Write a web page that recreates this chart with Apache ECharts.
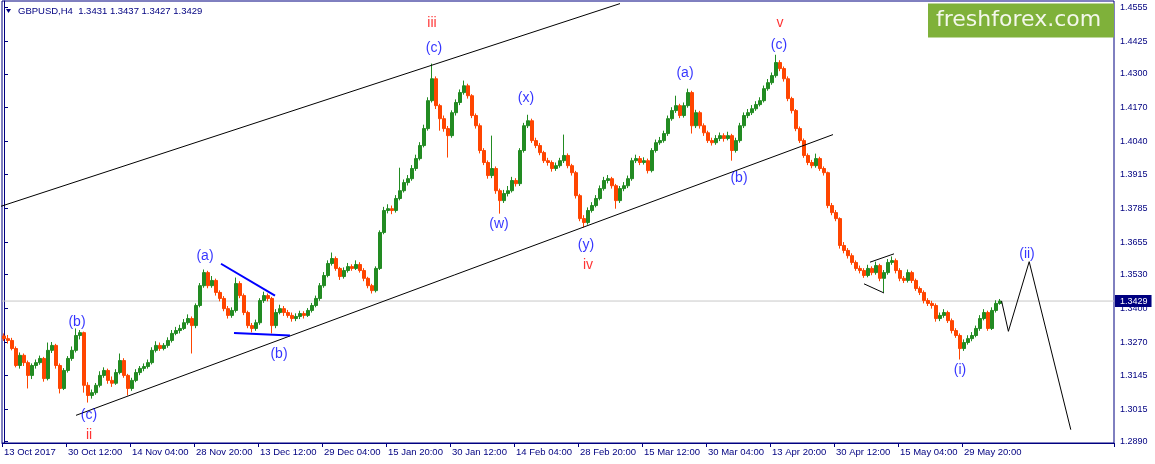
<!DOCTYPE html>
<html>
<head>
<meta charset="utf-8">
<script src="https://cdn.jsdelivr.net/npm/echarts@6/dist/echarts.min.js"></script>
<style>html,body{margin:0;padding:0;background:#fff;}#c{width:1155px;height:464px;}</style>
</head>
<body>
<div id="c"></div>
<script>
// ---- data ----
const symbolName = 'GBPUSD,H4';
const headerOHLC = ['1.3431', '1.3437', '1.3427', '1.3429'];
const currentPrice = 1.3429;
const xTickLabels = ['13 Oct 2017','30 Oct 12:00','14 Nov 04:00','28 Nov 20:00','13 Dec 12:00','29 Dec 04:00','15 Jan 20:00','30 Jan 12:00','14 Feb 04:00','28 Feb 20:00','15 Mar 12:00','30 Mar 04:00','13 Apr 20:00','30 Apr 12:00','15 May 04:00','29 May 20:00'];
const yTickLabels = ['1.2890','1.3015','1.3145','1.3270','1.3400','1.3530','1.3655','1.3785','1.3915','1.4040','1.4170','1.4300','1.4425','1.4555'];

const opens = [
1.3295,1.3285,1.3278,1.3247,1.3182,1.3221,1.3193,1.3144,1.3182,1.3193,
1.3209,1.3132,1.3240,1.3259,1.3182,1.3094,1.3163,1.3209,1.3240,1.3297,
1.3308,1.3106,1.3067,1.3078,1.3106,1.3144,1.3163,1.3125,1.3114,1.3155,
1.3201,1.3144,1.3094,1.3125,1.3155,1.3171,1.3178,1.3193,1.3240,1.3259,
1.3247,1.3259,1.3278,1.3305,1.3316,1.3324,1.3346,1.3362,1.3335,1.3412,
1.3488,1.3538,1.3488,1.3508,1.3462,1.3439,1.3400,1.3374,1.3393,1.3496,
1.3450,1.3385,1.3335,1.3324,1.3346,1.3431,1.3450,1.3439,1.3335,1.3385,
1.3400,1.3385,1.3374,1.3362,1.3370,1.3381,1.3374,1.3393,1.3412,1.3439,
1.3488,1.3527,1.3573,1.3592,1.3554,1.3523,1.3546,1.3561,1.3554,1.3569,
1.3546,1.3516,1.3488,1.3469,1.3554,1.3692,1.3776,1.3783,1.3776,1.3822,
1.3852,1.3883,1.3898,1.3937,1.3975,1.4025,1.4090,1.4197,1.4281,1.4178,
1.4128,1.4090,1.4063,1.4151,1.4190,1.4228,1.4254,1.4216,1.4140,1.4101,
1.4006,1.3960,1.3910,1.3937,1.3852,1.3814,1.3841,1.3852,1.3891,1.3879,
1.4006,1.4101,1.4120,1.4044,1.4025,1.3998,1.3967,1.3960,1.3937,1.3948,
1.3967,1.3987,1.3948,1.3921,1.3833,1.3745,1.3730,1.3776,1.3795,1.3822,
1.3860,1.3891,1.3898,1.3871,1.3814,1.3860,1.3871,1.3898,1.3967,1.3975,
1.3960,1.3967,1.3929,1.4006,1.4036,1.4044,1.4071,1.4128,1.4159,1.4178,
1.4140,1.4178,1.4228,1.4101,1.4151,1.4101,1.4074,1.4044,1.4036,1.4052,
1.4063,1.4052,1.4063,1.4006,1.4044,1.4101,1.4140,1.4151,1.4166,1.4182,
1.4197,1.4243,1.4266,1.4293,1.4343,1.4320,1.4281,1.4205,1.4159,1.4090,
1.4044,1.3987,1.3960,1.3948,1.3975,1.3937,1.3921,1.3795,1.3768,1.3745,
1.3642,1.3623,1.3603,1.3577,1.3554,1.3546,1.3527,1.3554,1.3538,1.3565,
1.3516,1.3538,1.3577,1.3584,1.3546,1.3516,1.3508,1.3538,1.3508,1.3477,
1.3462,1.3431,1.3420,1.3412,1.3362,1.3374,1.3385,1.3354,1.3316,1.3297,
1.3247,1.3270,1.3285,1.3297,1.3324,1.3362,1.3385,1.3324,1.3393,1.3420];

const closes = [
1.3285,1.3278,1.3247,1.3182,1.3221,1.3193,1.3144,1.3182,1.3193,1.3209,
1.3132,1.3240,1.3259,1.3182,1.3094,1.3163,1.3209,1.3240,1.3297,1.3308,
1.3106,1.3067,1.3078,1.3106,1.3144,1.3163,1.3125,1.3114,1.3155,1.3201,
1.3144,1.3094,1.3125,1.3155,1.3171,1.3178,1.3193,1.3240,1.3259,1.3247,
1.3259,1.3278,1.3305,1.3316,1.3324,1.3346,1.3362,1.3335,1.3412,1.3488,
1.3538,1.3488,1.3508,1.3462,1.3439,1.3400,1.3374,1.3393,1.3496,1.3450,
1.3385,1.3335,1.3324,1.3346,1.3431,1.3450,1.3439,1.3335,1.3385,1.3400,
1.3385,1.3374,1.3362,1.3370,1.3381,1.3374,1.3393,1.3412,1.3439,1.3488,
1.3527,1.3573,1.3592,1.3554,1.3523,1.3546,1.3561,1.3554,1.3569,1.3546,
1.3516,1.3488,1.3469,1.3554,1.3692,1.3776,1.3783,1.3776,1.3822,1.3852,
1.3883,1.3898,1.3937,1.3975,1.4025,1.4090,1.4197,1.4281,1.4178,1.4128,
1.4090,1.4063,1.4151,1.4190,1.4228,1.4254,1.4216,1.4140,1.4101,1.4006,
1.3960,1.3910,1.3937,1.3852,1.3814,1.3841,1.3852,1.3891,1.3879,1.4006,
1.4101,1.4120,1.4044,1.4025,1.3998,1.3967,1.3960,1.3937,1.3948,1.3967,
1.3987,1.3948,1.3921,1.3833,1.3745,1.3730,1.3776,1.3795,1.3822,1.3860,
1.3891,1.3898,1.3871,1.3814,1.3860,1.3871,1.3898,1.3967,1.3975,1.3960,
1.3967,1.3929,1.4006,1.4036,1.4044,1.4071,1.4128,1.4159,1.4178,1.4140,
1.4178,1.4228,1.4101,1.4151,1.4101,1.4074,1.4044,1.4036,1.4052,1.4063,
1.4052,1.4063,1.4006,1.4044,1.4101,1.4140,1.4151,1.4166,1.4182,1.4197,
1.4243,1.4266,1.4293,1.4343,1.4320,1.4281,1.4205,1.4159,1.4090,1.4044,
1.3987,1.3960,1.3948,1.3975,1.3937,1.3921,1.3795,1.3768,1.3745,1.3642,
1.3623,1.3603,1.3577,1.3554,1.3546,1.3527,1.3554,1.3538,1.3565,1.3516,
1.3538,1.3577,1.3584,1.3546,1.3516,1.3508,1.3538,1.3508,1.3477,1.3462,
1.3431,1.3420,1.3412,1.3362,1.3374,1.3385,1.3354,1.3316,1.3297,1.3247,
1.3270,1.3285,1.3297,1.3324,1.3362,1.3385,1.3324,1.3393,1.3420,1.3429];

const highs = [
1.3305,1.3299,1.3288,1.3255,1.3232,1.3228,1.3201,1.3190,1.3205,1.3220,
1.3215,1.3270,1.3272,1.3265,1.3190,1.3172,1.3218,1.3255,1.3324,1.3318,
1.3312,1.3118,1.3090,1.3115,1.3160,1.3175,1.3170,1.3140,1.3168,1.3228,
1.3210,1.3150,1.3135,1.3168,1.3180,1.3190,1.3205,1.3252,1.3275,1.3270,
1.3268,1.3290,1.3318,1.3330,1.3338,1.3360,1.3378,1.3370,1.3420,1.3498,
1.3550,1.3545,1.3525,1.3515,1.3470,1.3448,1.3410,1.3405,1.3519,1.3505,
1.3458,1.3392,1.3345,1.3358,1.3440,1.3465,1.3458,1.3445,1.3398,1.3415,
1.3410,1.3395,1.3385,1.3382,1.3392,1.3390,1.3402,1.3422,1.3450,1.3498,
1.3540,1.3585,1.3615,1.3600,1.3560,1.3558,1.3575,1.3570,1.3585,1.3578,
1.3555,1.3522,1.3495,1.3562,1.3700,1.3790,1.3800,1.3795,1.3835,1.3940,
1.3895,1.3912,1.3950,1.3990,1.4038,1.4105,1.4210,1.4339,1.4290,1.4185,
1.4140,1.4100,1.4160,1.4202,1.4240,1.4274,1.4262,1.4222,1.4148,1.4110,
1.4015,1.3968,1.4063,1.3945,1.3860,1.3855,1.3870,1.3905,1.3900,1.4015,
1.4112,1.4143,1.4128,1.4055,1.4035,1.4005,1.3978,1.3968,1.3960,1.3978,
1.4067,1.3995,1.3955,1.3928,1.3840,1.3758,1.3788,1.3808,1.3835,1.3872,
1.3905,1.3912,1.3905,1.3878,1.3870,1.3885,1.3910,1.3978,1.3990,1.3985,
1.3980,1.3975,1.4015,1.4048,1.4058,1.4082,1.4140,1.4172,1.4216,1.4185,
1.4190,1.4243,1.4235,1.4162,1.4158,1.4110,1.4082,1.4055,1.4065,1.4075,
1.4072,1.4078,1.4070,1.4055,1.4112,1.4152,1.4165,1.4180,1.4195,1.4210,
1.4255,1.4280,1.4305,1.4373,1.4352,1.4328,1.4290,1.4212,1.4165,1.4098,
1.4052,1.3995,1.3970,1.3994,1.3982,1.3945,1.3925,1.3805,1.3778,1.3750,
1.3655,1.3632,1.3612,1.3585,1.3565,1.3555,1.3568,1.3562,1.3580,1.3572,
1.3548,1.3590,1.3600,1.3592,1.3555,1.3525,1.3550,1.3545,1.3515,1.3485,
1.3470,1.3440,1.3430,1.3420,1.3385,1.3398,1.3392,1.3362,1.3325,1.3305,
1.3282,1.3298,1.3310,1.3335,1.3375,1.3398,1.3392,1.3405,1.3432,1.3437];

const lows = [
1.3276,1.3266,1.3240,1.3175,1.3170,1.3180,1.3094,1.3130,1.3170,1.3185,
1.3120,1.3125,1.3230,1.3170,1.3075,1.3088,1.3155,1.3200,1.3232,1.3282,
1.3078,1.3040,1.3055,1.3070,1.3098,1.3135,1.3112,1.3100,1.3108,1.3148,
1.3135,1.3067,1.3085,1.3118,1.3145,1.3160,1.3170,1.3186,1.3232,1.3238,
1.3240,1.3250,1.3270,1.3298,1.3305,1.3318,1.3338,1.3228,1.3325,1.3405,
1.3480,1.3478,1.3480,1.3450,1.3428,1.3390,1.3362,1.3365,1.3385,1.3440,
1.3375,1.3325,1.3309,1.3315,1.3338,1.3422,1.3428,1.3305,1.3325,1.3378,
1.3372,1.3365,1.3350,1.3352,1.3360,1.3362,1.3368,1.3385,1.3405,1.3430,
1.3480,1.3520,1.3565,1.3545,1.3510,1.3515,1.3538,1.3545,1.3548,1.3538,
1.3505,1.3478,1.3458,1.3462,1.3548,1.3685,1.3765,1.3762,1.3768,1.3815,
1.3845,1.3872,1.3890,1.3928,1.3968,1.4018,1.4082,1.4190,1.4165,1.4082,
1.4078,1.3979,1.4055,1.4140,1.4180,1.4220,1.4205,1.4130,1.4090,1.3995,
1.3950,1.3898,1.3900,1.3840,1.3764,1.3805,1.3830,1.3845,1.3868,1.3870,
1.3998,1.4092,1.4035,1.4015,1.3988,1.3958,1.3948,1.3925,1.3928,1.3940,
1.3958,1.3938,1.3910,1.3822,1.3735,1.3711,1.3722,1.3768,1.3788,1.3815,
1.3852,1.3880,1.3860,1.3783,1.3805,1.3850,1.3862,1.3890,1.3958,1.3950,
1.3952,1.3918,1.3922,1.3998,1.4028,1.4036,1.4062,1.4120,1.4150,1.4130,
1.4132,1.4170,1.4071,1.4092,1.4090,1.4062,1.4035,1.4025,1.4028,1.4042,
1.4040,1.4045,1.3967,1.3998,1.4036,1.4092,1.4130,1.4142,1.4158,1.4175,
1.4190,1.4235,1.4258,1.4285,1.4310,1.4270,1.4195,1.4148,1.4080,1.4035,
1.3978,1.3950,1.3938,1.3940,1.3928,1.3910,1.3785,1.3758,1.3735,1.3630,
1.3612,1.3592,1.3568,1.3545,1.3535,1.3518,1.3520,1.3528,1.3530,1.3505,
1.3462,1.3530,1.3568,1.3535,1.3505,1.3498,1.3500,1.3498,1.3468,1.3452,
1.3420,1.3410,1.3400,1.3350,1.3352,1.3365,1.3345,1.3305,1.3288,1.3205,
1.3238,1.3262,1.3275,1.3290,1.3315,1.3355,1.3315,1.3318,1.3385,1.3415];

// drawn objects: [bar position, price]
const upperChannel = [[-1, 1.3791], [154, 1.4569]];
const lowerChannel = [[18, 1.2991], [207.25, 1.4067]];
const blueResistance = [[54.25, 1.3572], [67.75, 1.3450]];
const blueSupport = [[57.5, 1.3307], [71.5, 1.3297]];
const triUpper = [[216.5, 1.3578], [222.5, 1.3610]];
const triLower = [[215, 1.3495], [220, 1.3460]];
const projection = [[249.4, 1.3429], [251.1, 1.3313], [256.3, 1.3580], [266.7, 1.2936]];

const blueLabels = [[18.25, 1.3347, '(b)'], [21.25, 1.2991, '(c)'], [50.25, 1.3603, '(a)'], [68.75, 1.3224, '(b)'],
  [107.5, 1.4400, '(c)'], [123.75, 1.3722, '(w)'], [130.5, 1.4205, '(x)'], [145.5, 1.3645, '(y)'],
  [170.25, 1.4304, '(a)'], [183.75, 1.3902, '(b)'], [193.75, 1.4411, '(c)'], [239, 1.3163, '(i)'], [255.75, 1.3607, '(ii)']];
const redLabels = [[21.25, 1.2914, 'ii'], [107, 1.4496, 'iii'], [146, 1.3565, 'iv'], [194, 1.4496, 'v']];

// ---- build chart ----
const NCAT = 278;
const names = [];
for (let i = 0; i < NCAT; i++) {
  names.push(i % 16 === 0 && xTickLabels[i / 16] ? xTickLabels[i / 16] : '');
}
const candles = opens.map((o, i) => [o, closes[i], lows[i], highs[i]]);
const yVals = yTickLabels.map(Number);
const NAVY = '#000080';

function lineSeries(data, color, width) {
  return { type: 'line', xAxisIndex: 1, yAxisIndex: 0, data: data, symbol: 'none', silent: true, clip: true,
    lineStyle: { color: color, width: width }, z: 5 };
}
function labelSeries(data, color) {
  return { type: 'scatter', xAxisIndex: 1, yAxisIndex: 0, data: data, symbolSize: 1, silent: true, z: 6,
    itemStyle: { color: 'rgba(0,0,0,0)' },
    label: { show: true, position: 'inside', color: color, fontSize: 14, fontFamily: 'Liberation Sans',
      formatter: p => p.data[2] } };
}

const chart = echarts.init(document.getElementById('c'), null, { renderer: 'canvas' });
chart.setOption({
  animation: false,
  backgroundColor: '#ffffff',
  grid: { left: 2, right: 41, top: 1, bottom: 21, show: true, borderColor: NAVY, borderWidth: 1, backgroundColor: 'rgba(0,0,0,0)' },
  xAxis: [{
    type: 'category', data: names, boundaryGap: true,
    axisLine: { show: true, lineStyle: { color: NAVY } },
    axisTick: { show: true, interval: i => names[i] !== '', length: 4, lineStyle: { color: NAVY } },
    axisLabel: { interval: i => names[i] !== '', align: 'left', color: NAVY, fontSize: 9.5, fontFamily: 'Liberation Sans', margin: 4 },
    splitLine: { show: false }
  }, {
    type: 'value', min: -0.5, max: NCAT - 0.5, show: false
  }],
  yAxis: [{
    type: 'value', position: 'right', min: 1.2885, max: 1.4579,
    axisLine: { show: true, lineStyle: { color: NAVY } },
    axisTick: { show: true, customValues: yVals, length: 4, lineStyle: { color: NAVY } },
    axisLabel: { customValues: yVals, formatter: v => v.toFixed(4), color: NAVY, fontSize: 9, fontFamily: 'Liberation Sans', margin: 6 },
    splitLine: { show: false }
  }],
  series: [
    {
      type: 'line', xAxisIndex: 1, yAxisIndex: 0, symbol: 'none', silent: true, z: 1,
      data: [[-0.5, currentPrice], [NCAT - 0.5, currentPrice]],
      lineStyle: { color: '#c8c8c8', width: 1 },
      endLabel: { show: true, formatter: currentPrice.toFixed(4), color: '#ffffff', backgroundColor: NAVY,
        padding: [2, 4, 1, 5], fontSize: 9, fontFamily: 'Liberation Sans', distance: 1 }
    },
    {
      type: 'candlestick', xAxisIndex: 0, yAxisIndex: 0, data: candles, barWidth: 3, silent: true, z: 2,
      itemStyle: { color: '#228b22', color0: '#ff4500', borderColor: '#228b22', borderColor0: '#ff4500', borderWidth: 1 }
    },
    lineSeries(upperChannel, '#000000', 1),
    lineSeries(lowerChannel, '#000000', 1),
    lineSeries(triUpper, '#000000', 1),
    lineSeries(triLower, '#000000', 1),
    lineSeries(projection, '#000000', 1),
    lineSeries(blueResistance, '#0000ff', 2),
    lineSeries(blueSupport, '#0000ff', 2),
    labelSeries(blueLabels, '#0000ff'),
    labelSeries(redLabels, '#ff0000')
  ],
  graphic: [
    { type: 'polygon', shape: { points: [[6, 9], [11, 9], [8.5, 13]] }, style: { fill: NAVY } },
    { type: 'text', x: 18, y: 11, style: { text: symbolName + '  ' + headerOHLC.join(' '), fill: NAVY,
      font: '9.5px "Liberation Sans"', verticalAlign: 'middle' } },
    { type: 'rect', shape: { x: 928, y: 3.5, width: 186, height: 34 }, style: { fill: '#7fb13a' }, z: 10 },
    { type: 'text', x: 936, y: 20.5, z: 11, style: { text: 'freshforex.com', fill: '#f3f7ea',
      font: '22px "DejaVu Sans"', verticalAlign: 'middle' } }
  ]
});
</script>
</body>
</html>
